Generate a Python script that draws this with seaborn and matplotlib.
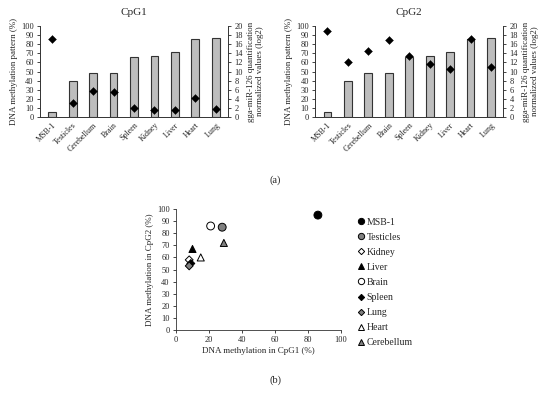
import pandas as pd
import matplotlib
matplotlib.use('Agg')
import matplotlib.pyplot as plt
import seaborn as sns

sns.set_style('white')
plt.rcParams['font.family'] = ['Liberation Serif', 'DejaVu Serif']

# bar panel data
tissues = ['MSB-1', 'Testicles', 'Cerebellum', 'Brain', 'Spleen',
           'Kidney', 'Liver', 'Heart', 'Lung']
mir126 = [1.2, 8.0, 9.7, 9.7, 13.1, 13.4, 14.2, 17.1, 17.4]
cpg1 = [86, 15, 29, 28, 10, 8, 8, 21, 9]
cpg2 = [95, 60, 72, 85, 67, 58, 53, 86, 55]

# scatter panel data
sc_tissues = ['MSB-1', 'Testicles', 'Kidney', 'Liver', 'Brain',
              'Spleen', 'Lung', 'Heart', 'Cerebellum']
sc_cpg1 = [86, 28, 8, 10, 21, 9, 8, 15, 29]
sc_cpg2 = [95, 85, 58, 67, 86, 55, 53, 60, 72]
sc_colors = ['black', 'grey', 'white', 'black', 'white',
             'black', 'grey', 'white', 'grey']
sc_markers = ['o', 'o', 'D', '^', 'o', 'D', 'D', '^', '^']
sc_sizes = [32, 32, 16, 26, 32, 16, 16, 26, 26]

fig = plt.figure(figsize=(5.5, 3.94), dpi=100)


def bar_panel(left, values, title):
    ax = fig.add_axes([left, 0.703, 0.342, 0.231])
    ax2 = ax.twinx()
    df = pd.DataFrame({'tissue': tissues, 'mir': mir126, 'meth': values})
    sns.barplot(data=df, x='tissue', y='mir', ax=ax2, color='#bdbdbd',
                edgecolor='#333333', linewidth=0.8, width=0.38, saturation=1)
    sns.scatterplot(data=df, x='tissue', y='meth', ax=ax, marker='D',
                    color='black', s=16, edgecolor='black', zorder=5)
    ax.set_zorder(ax2.get_zorder() + 1)
    ax.patch.set_visible(False)
    ax.set_ylim(0, 100)
    ax2.set_ylim(0, 20)
    ax.set_xlim(-0.6, 8.6)
    ax.set_yticks(range(0, 101, 10))
    ax2.set_yticks(range(0, 21, 2))
    ax.set_xlabel('')
    ax2.set_xlabel('')
    ax.set_ylabel('DNA methylation pattern (%)', fontsize=6.5, labelpad=2)
    ax2.set_ylabel('gga-miR-126 quantification\nnormalized values (log2)',
                   fontsize=6.5, labelpad=3)
    ax.set_title(title, fontsize=8, pad=8)
    ax.set_xticks(range(len(tissues)))
    ax.set_xticklabels(tissues, rotation=45, ha='right', rotation_mode='anchor',
                       fontsize=5.8)
    for a in (ax, ax2):
        a.tick_params(axis='y', labelsize=6, length=2.5, width=0.6, pad=2,
                      direction='out')
        a.spines['top'].set_visible(False)
        for s in ('left', 'right', 'bottom'):
            a.spines[s].set_linewidth(0.6)
            a.spines[s].set_color('#333333')
    ax.tick_params(axis='y', left=True)
    ax2.tick_params(axis='y', right=True)
    ax.tick_params(axis='x', length=0, pad=3, labelbottom=True)
    ax2.tick_params(axis='x', length=0, labelbottom=False)


bar_panel(0.0727, cpg1, 'CpG1')
bar_panel(0.573, cpg2, 'CpG2')

fig.text(0.5, 1 - 180 / 394, '(a)', ha='center', va='center', fontsize=7.5)
fig.text(0.5, 1 - 380 / 394, '(b)', ha='center', va='center', fontsize=7.5)

# scatter panel
ax3 = fig.add_axes([0.32, 0.1624, 0.3, 0.307])
sdf = pd.DataFrame({'tissue': sc_tissues, 'x': sc_cpg1, 'y': sc_cpg2})
sns.scatterplot(data=sdf, x='x', y='y', hue='tissue', style='tissue',
                size='tissue', sizes=dict(zip(sc_tissues, sc_sizes)),
                palette=dict(zip(sc_tissues, sc_colors)),
                markers=dict(zip(sc_tissues, sc_markers)),
                hue_order=sc_tissues, style_order=sc_tissues,
                size_order=sc_tissues,
                edgecolor='black', linewidth=0.7, ax=ax3)
ax3.set_xlim(0, 100)
ax3.set_ylim(0, 100)
ax3.set_xticks(range(0, 101, 20))
ax3.set_yticks(range(0, 101, 10))
ax3.set_xlabel('DNA methylation in CpG1 (%)', fontsize=6.5, labelpad=2)
ax3.set_ylabel('DNA methylation in CpG2 (%)', fontsize=6.5, labelpad=2)
ax3.tick_params(labelsize=6, length=2.5, width=0.6, pad=2, direction='out',
                left=True, bottom=True)
ax3.spines['top'].set_visible(False)
ax3.spines['right'].set_visible(False)
for s in ('left', 'bottom'):
    ax3.spines[s].set_linewidth(0.6)
    ax3.spines[s].set_color('#333333')

handles, labels = ax3.get_legend_handles_labels()
for h in handles:
    h.set_markeredgecolor('black')
    h.set_markeredgewidth(0.7)
    h.set_markersize(h.get_markersize() * 0.8)
ax3.legend(handles, labels, loc='upper left', bbox_to_anchor=(1.06, 0.96),
           frameon=False, fontsize=7, handletextpad=0.0, handlelength=1.2,
           labelspacing=0.62, borderaxespad=0)

fig.savefig('out.png', dpi=100)
